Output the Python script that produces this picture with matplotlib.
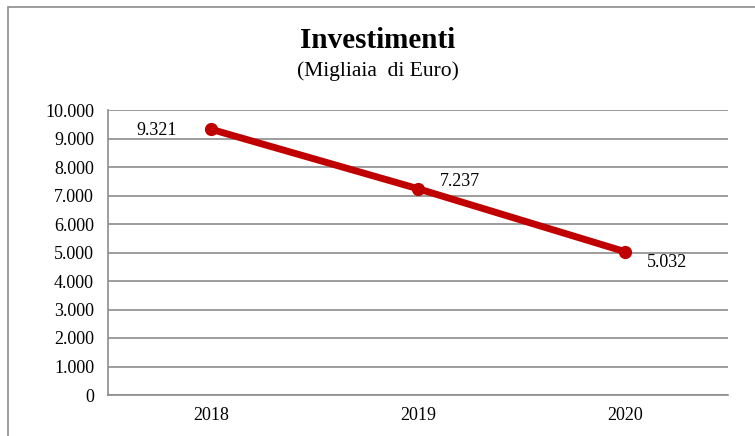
import matplotlib.pyplot as plt
from matplotlib.patches import Rectangle
from matplotlib.ticker import FuncFormatter

years = ["2018", "2019", "2020"]
values = [9321, 7237, 5032]
labels = ["9.321", "7.237", "5.032"]

plt.rcParams["font.family"] = ["Liberation Serif", "DejaVu Serif"]

fig = plt.figure(figsize=(7.55, 4.36), dpi=100)
ax = fig.add_axes([108 / 755, 1 - 395 / 436, 620 / 755, 285 / 436])

x = range(len(years))
ax.plot(x, values, color="#c00000", linewidth=5, marker="o", markersize=8.5, solid_capstyle="round")

offsets = [(-54, -1), (16, 5), (16, -8)]
for xi, v, lab, off in zip(x, values, labels, offsets):
    ax.annotate(lab, (xi, v), xytext=off, textcoords="offset points",
                fontsize=13, ha="left", va="center")

ax.set_xlim(-0.5, 2.5)
ax.set_ylim(0, 10000)
ax.set_yticks(range(0, 10001, 1000))
ax.yaxis.set_major_formatter(FuncFormatter(lambda v, p: f"{int(v):,}".replace(",", ".")))
ax.set_xticks(list(x))
ax.set_xticklabels(years)
ax.tick_params(length=0, labelsize=13, pad=9)
ax.tick_params(axis="y", pad=10)
ax.grid(axis="y", color="#8c8c8c", linewidth=1.2)
ax.set_axisbelow(True)
for s in ["top", "right"]:
    ax.spines[s].set_visible(False)
for s in ["left", "bottom"]:
    ax.spines[s].set_color("#8c8c8c")
    ax.spines[s].set_linewidth(1.2)

fig.text(0.5, 1 - 40 / 436, "Investimenti", ha="center", va="center", fontsize=21, fontweight="bold")
fig.text(0.5, 1 - 71 / 436, "(Migliaia  di Euro)", ha="center", va="center", fontsize=15.5)

fig.patches.append(Rectangle((8 / 755, -0.1), 1.2, 1 - 7 / 436 + 0.1, transform=fig.transFigure,
                             fill=False, edgecolor="#8c8c8c", linewidth=1.2))

fig.savefig("out.png", dpi=100)
